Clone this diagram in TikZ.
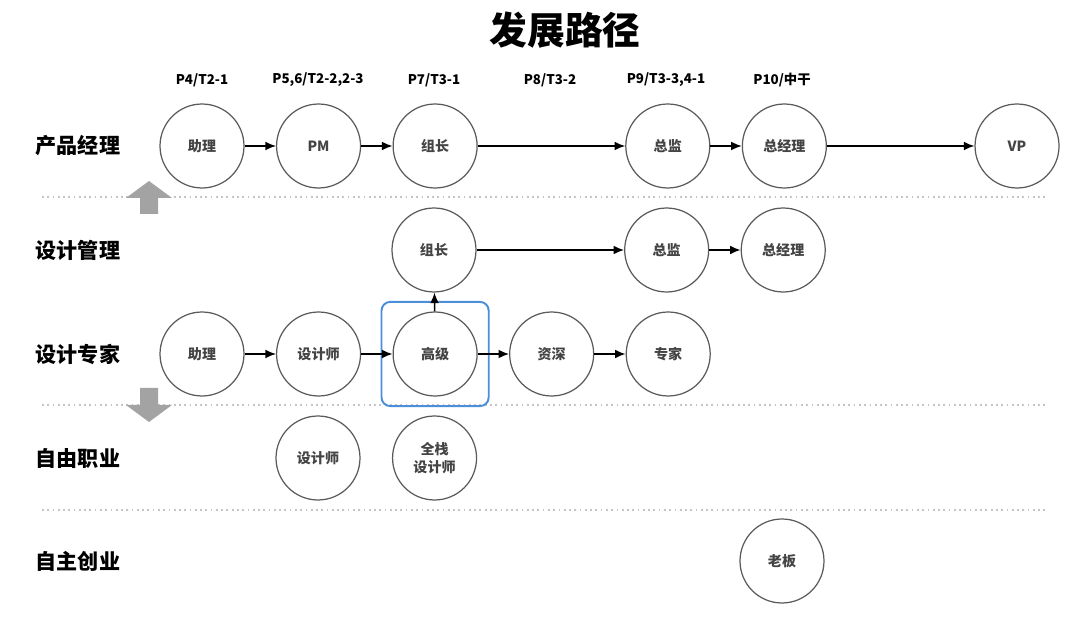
\documentclass[tikz,border=0pt]{standalone}
\usepackage{fontspec}
\setmainfont{Noto Sans CJK SC}
\usepackage{xcolor}
\usetikzlibrary{positioning, arrows.meta, fit}
\definecolor{ringgray}{HTML}{5A5A5A}
\definecolor{textgray}{HTML}{444444}
\definecolor{sepgray}{HTML}{C4C4C4}
\definecolor{arrowgray}{HTML}{A3A3A3}
\definecolor{hlblue}{HTML}{4A8FD8}
\tikzset{
	node distance = .627cm,
	>={Latex[length=6pt,width=5pt]},
	vertex/.style={
		draw=ringgray,
		circle,
		line width=.7pt,
		minimum size=1.68cm,
		inner sep=0pt,
		align=center,
		text=textgray,
		font=\fontsize{8}{10}\selectfont\bfseries
	},
	edge/.style={
		->,
		line width=.85pt
	},
	rowlabel/.style={font=\fontsize{12}{14}\selectfont\bfseries},
	collabel/.style={font=\fontsize{7.6}{9}\selectfont\bfseries},
	sep/.style={draw=sepgray, dotted, line width=1pt},
	bigarrow/.style={fill=arrowgray, draw=none}
}

\begin{document}
\begin{tikzpicture}[x=0.02cm, y=-0.02cm]
\useasboundingbox (0,0) rectangle (1080,628);

\node[font=\fontsize{21.5}{24}\selectfont\bfseries] (title) at (565,30) {发展路径};

% levels
\node[collabel] (c1) at (202,80) {P4/T2-1};
\node[collabel] (c2) at (318,80) {P5,6/T2-2,2-3};
\node[collabel] (c3) at (434,80) {P7/T3-1};
\node[collabel] (c4) at (550,80) {P8/T3-2};
\node[collabel] (c5) at (666,80) {P9/T3-3,4-1};
\node[collabel] (c6) at (782,80) {P10/中干};

% rows
\node[rowlabel] (r1) at (78,146) {产品经理};
\node[rowlabel] (r2) at (78,250) {设计管理};
\node[rowlabel] (r3) at (78,354) {设计专家};
\node[rowlabel] (r4) at (78,458) {自由职业};
\node[rowlabel] (r5) at (78,561) {自主创业};

\draw[sep] (42,197) -- (1045,197);
\draw[sep] (42,405) -- (1045,405);
\draw[sep] (42,510) -- (1045,510);

\fill[bigarrow] (149,181) -- (172,198) -- (158,198) -- (158,214) -- (140,214) -- (140,198) -- (126,198) -- cycle;
\fill[bigarrow] (149,422) -- (172,405) -- (158,405) -- (158,388) -- (140,388) -- (140,405) -- (126,405) -- cycle;

% product
\node[vertex] (pa) at (202,146) {助理};
\node[vertex, right = of pa] (ppm) {PM};
\node[vertex, right = of ppm] (pz) {组长};
\node[vertex, right = 2.95cm of pz] (pj) {总监};
\node[vertex, right = of pj] (pg) {总经理};
\node[vertex, right = 2.95cm of pg] (pvp) {VP};

% management
\node[vertex] (mz) at (434,250) {组长};
\node[vertex, right = 2.95cm of mz] (mj) {总监};
\node[vertex, right = of mj] (mg) {总经理};

% expert
\node[vertex] (da) at (202,354) {助理};
\node[vertex, right = of da] (ds) {设计师};
\node[vertex, right = of ds] (dh) {高级};
\node[vertex, right = of dh] (dz) {资深};
\node[vertex, right = of dz] (de) {专家};
\node[draw=hlblue, line width=1.1pt, rounded corners=5pt, fit=(dh), inner xsep=.22cm, inner ysep=.19cm] (hl) {};

% freelance
\node[vertex] (fs) at (318,458) {设计师};
\node[vertex, right = of fs] (ff) {全栈\\设计师};

% own business
\node[vertex] (boss) at (782,561) {老板};

\draw[edge] (pa) -- (ppm);
\draw[edge] (ppm) -- (pz);
\draw[edge] (pz) -- (pj);
\draw[edge] (pj) -- (pg);
\draw[edge] (pg) -- (pvp);

\draw[edge] (mz) -- (mj);
\draw[edge] (mj) -- (mg);

\draw[edge] (da) -- (ds);
\draw[edge] (ds) -- (dh);
\draw[edge] (dh) -- (dz);
\draw[edge] (dz) -- (de);
\draw[edge] (dh) -- (mz);
\end{tikzpicture}
\end{document}
